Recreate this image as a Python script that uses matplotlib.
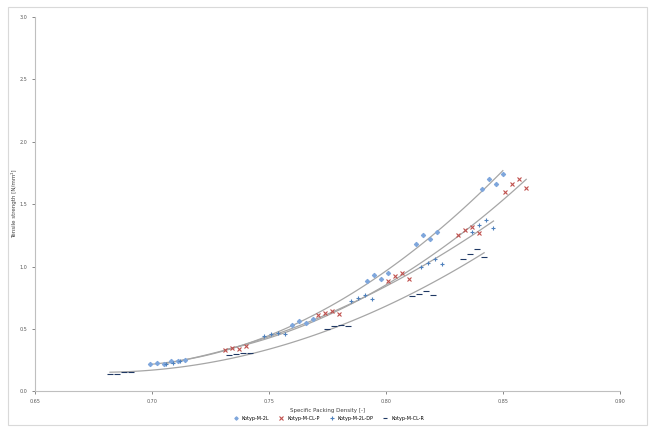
import matplotlib
matplotlib.use("Agg")
import matplotlib.pyplot as plt
import numpy as np

# series data
s1_x = [0.699, 0.702, 0.705, 0.708, 0.711, 0.714, 0.760, 0.763, 0.766, 0.769,
        0.792, 0.795, 0.798, 0.801, 0.813, 0.816, 0.819, 0.822, 0.841, 0.844, 0.847, 0.850]
s1_y = [0.22, 0.23, 0.22, 0.24, 0.24, 0.25, 0.53, 0.56, 0.55, 0.58,
        0.88, 0.93, 0.90, 0.95, 1.18, 1.25, 1.22, 1.28, 1.62, 1.70, 1.66, 1.74]

s2_x = [0.731, 0.734, 0.737, 0.740, 0.771, 0.774, 0.777, 0.780, 0.801, 0.804,
        0.807, 0.810, 0.831, 0.834, 0.837, 0.840, 0.851, 0.854, 0.857, 0.860]
s2_y = [0.33, 0.35, 0.34, 0.36, 0.61, 0.63, 0.64, 0.62, 0.88, 0.92,
        0.95, 0.90, 1.25, 1.29, 1.32, 1.27, 1.60, 1.66, 1.70, 1.63]

s3_x = [0.706, 0.709, 0.712, 0.748, 0.751, 0.754, 0.757, 0.785, 0.788, 0.791,
        0.794, 0.815, 0.818, 0.821, 0.824, 0.837, 0.840, 0.843, 0.846]
s3_y = [0.22, 0.23, 0.24, 0.44, 0.46, 0.47, 0.46, 0.72, 0.75, 0.77,
        0.74, 1.00, 1.03, 1.06, 1.02, 1.28, 1.33, 1.37, 1.31]

s4_x = [0.682, 0.685, 0.688, 0.691, 0.733, 0.736, 0.739, 0.742, 0.775, 0.778,
        0.781, 0.784, 0.811, 0.814, 0.817, 0.820, 0.833, 0.836, 0.839, 0.842]
s4_y = [0.14, 0.14, 0.15, 0.15, 0.29, 0.30, 0.31, 0.31, 0.50, 0.52,
        0.53, 0.52, 0.76, 0.78, 0.80, 0.77, 1.06, 1.10, 1.14, 1.08]

labels = ["Kotyp-M-2L", "Kotyp-M-CL-P", "Kotyp-M-2L-DP", "Kotyp-M-CL-R"]
x_ticks = [0.65, 0.70, 0.75, 0.80, 0.85, 0.90]
y_ticks = [0.0, 0.5, 1.0, 1.5, 2.0, 2.5, 3.0]

fig = plt.figure(figsize=(6.51, 4.28), dpi=100)
ax = fig.add_axes([0.054, 0.086, 0.898, 0.874])

# chart area frame
fig.patches.append(plt.Rectangle((0.012, 0.008), 0.982, 0.975, transform=fig.transFigure,
                                 fill=False, edgecolor="#d9d9d9", linewidth=0.8))

series = [
    (s1_x, s1_y, "#7ea6dc", "D", 2.2),
    (s2_x, s2_y, "#c0504d", "x", 2.8),
    (s3_x, s3_y, "#4f81bd", "+", 3.2),
    (s4_x, s4_y, "#1f3864", "_", 3.8),
]

for (xs, ys, color, marker, size), label in zip(series, labels):
    ax.plot(xs, ys, linestyle="none", marker=marker, markersize=size,
            color=color, markeredgewidth=0.8, label=label)
    coef = np.polyfit(xs, ys, 2)
    xx = np.linspace(min(xs), max(xs), 100)
    ax.plot(xx, np.polyval(coef, xx), color="#a6a6a6", linewidth=0.9, zorder=1)

ax.set_xlim(x_ticks[0], x_ticks[-1])
ax.set_ylim(y_ticks[0], y_ticks[-1])
ax.set_xticks(x_ticks)
ax.set_yticks(y_ticks)
ax.set_xticklabels([f"{v:.2f}" for v in x_ticks])
ax.set_yticklabels([f"{v:.1f}" for v in y_ticks])
ax.tick_params(labelsize=3.5, colors="#595959", length=2, width=0.5)

for s in ["top", "right"]:
    ax.spines[s].set_visible(False)
for s in ["left", "bottom"]:
    ax.spines[s].set_color("#bfbfbf")
    ax.spines[s].set_linewidth(0.8)

ax.set_xlabel("Specific Packing Density [-]", fontsize=4, color="#404040", labelpad=3)
ax.set_ylabel("Tensile strength [N/mm²]", fontsize=4, color="#404040", labelpad=2)

ax.legend(loc="upper center", bbox_to_anchor=(0.5, -0.055), ncol=4, fontsize=3.5,
          frameon=False, handletextpad=0.2, columnspacing=1.5, markerscale=0.8)

fig.savefig("out.png", dpi=100)
